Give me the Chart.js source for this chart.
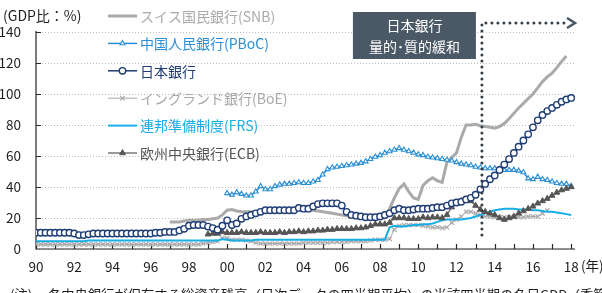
<!DOCTYPE html>
<html lang="ja">
<head>
<meta charset="utf-8">
<title>中央銀行の総資産残高（GDP比）</title>
<script src="https://cdn.jsdelivr.net/npm/chart.js@4/dist/chart.umd.min.js"></script>
<style>
  html, body { margin: 0; padding: 0; background: #fff; }
  canvas { display: block; }
</style>
</head>
<body>
<canvas id="chart" width="602" height="293"></canvas>
<script>
(function () {
  "use strict";

  // quarterly values, % of nominal GDP
  var bojStart = 1990;
  var boj = [
    10.5, 10.5, 10.5, 10.5, // 1990
    10.5, 10.5, 10.5, 10.5,
    10, 9, 9, 9.5,
    10, 10, 10, 10,
    10, 10, 10, 10,
    10, 10, 10, 10, // 1995
    10, 10.5, 10.5, 11,
    11, 11, 12, 13,
    15, 15.5, 15.5, 15.5,
    14.5, 13.5, 12.5, 15,
    18.5, 15.5, 16.5, 19.5, // 2000
    21, 22, 23, 24,
    25, 25, 25, 25,
    25, 25, 25, 26.5,
    26, 26, 27.5, 29,
    29.5, 29.5, 29.5, 29.5, // 2005
    28, 24, 22, 21.5,
    21, 20.5, 20.5, 20.5,
    21, 22, 23, 25,
    26, 25, 25, 25.5,
    26, 26, 26, 26.5, // 2010
    27, 27, 28, 29.5,
    30, 30.5, 32, 33,
    35, 38.5, 42, 45,
    47.5, 51, 54.5, 58,
    62, 66, 70, 74, // 2015
    78.5, 83, 86.5, 89,
    91, 93, 95, 96.5,
    97.5 // 2018
  ];

  var snbStart = 1997;
  var snb = [
    17.5, 17.5, 17.5, 18, // 1997
    18.5, 18.5, 18.5, 19,
    19, 19.5, 20, 22,
    25, 25.5, 24.5, 24, // 2000
    24, 24, 24, 24,
    24.5, 24.5, 25, 25,
    25, 25.5, 25.5, 26,
    26, 25.5, 25, 24.5,
    24, 23.5, 23, 22.5, // 2005
    22, 21.5, 21, 20.5,
    20, 19.5, 19.5, 19.5,
    19.5, 20, 26, 33,
    39, 42, 37, 33,
    32, 41, 44, 46, // 2010
    44, 43, 56, 59,
    62, 72, 80, 80,
    80.5, 79.5, 79, 78.5,
    78, 79, 81, 84,
    87.5, 91, 94, 97, // 2015
    100, 104, 108, 111,
    113.5, 117, 121, 124.5
  ];

  var pbocStart = 2000;
  var pboc = [
    36, 35, 36.5, 35.5, // 2000
    34.5, 34.5, 37, 40.5,
    38.5, 38.5, 40.5, 41.5,
    42, 42, 42.5, 43,
    42.5, 42.5, 43.5, 44.5,
    48, 51.5, 52.5, 53, // 2005
    53.5, 54, 54.5, 55,
    55.5, 56.5, 58, 59.5,
    60.5, 62, 63, 64,
    65, 64, 63, 62,
    61, 60.5, 59.5, 59, // 2010
    58.5, 58, 57.5, 57,
    56, 55, 54.5, 54,
    53, 52.5, 52, 52,
    52, 51.5, 51, 51,
    51, 50.5, 49.5, 45.5, // 2015
    45, 46.5, 45, 44.5,
    43.5, 42.5, 42, 42,
    40.5 // 2018
  ];

  var boeStart = 1990;
  var boe = [
    3, 3, 3, 3, // 1990
    3, 3, 3, 3,
    3, 3, 3, 3,
    3, 3, 3, 3,
    3, 3, 3, 3,
    3, 3, 3, 3, // 1995
    3, 3, 3, 3,
    3, 3, 3, 3,
    3, 3, 3, 3.5,
    4, 4.5, 5, 7,
    7, 6, 6, 6, // 2000
    5.5, 5, 4, 3.5,
    3.5, 3.5, 3.5, 3.5,
    3.5, 3.5, 3.5, 3.5,
    4, 4, 4, 4,
    4, 4, 4.5, 4.5, // 2005
    4.5, 4.5, 5, 5,
    5, 5, 5.5, 6,
    6, 6, 6.5, 12.5,
    15, 15.5, 15.5, 15.5,
    15.5, 15, 14.5, 14, // 2010
    14, 13.5, 14, 17,
    19, 21, 24, 24,
    23, 22, 21, 21,
    20.5, 20.5, 20.5, 20.5,
    20.5, 20.5, 20.5, 21, // 2015
    21, 21, 23, 25
  ];

  var frsStart = 1990;
  var frs = [
    5, 5, 5, 5, // 1990
    5, 5, 5, 5,
    5, 5, 5, 5.5,
    5.5, 5.5, 5.5, 5.5,
    5.5, 5.5, 5.5, 5.5,
    5.5, 5.5, 5.5, 5.5, // 1995
    5.5, 5.5, 5.5, 5.5,
    5.5, 5.5, 5.5, 5.5,
    5.5, 5.5, 5.5, 5.5,
    5.5, 5.5, 5.5, 6.5,
    6, 5.5, 5.5, 5.5, // 2000
    5.5, 5.5, 6, 6,
    6, 6, 6, 6,
    6, 6, 6, 6,
    6, 6, 6, 6,
    6, 6, 6, 6, // 2005
    6, 6, 6, 6,
    6, 6, 6, 6,
    6, 6, 14, 15,
    14.5, 14.5, 15, 15.5,
    15.5, 16, 16, 16.5, // 2010
    17.5, 18.5, 19, 19,
    19, 19, 19.5, 20,
    21, 22, 23, 24,
    25, 25.5, 26, 26,
    26, 25.5, 25.5, 25.5, // 2015
    25, 25, 24.5, 24,
    24, 23.5, 23, 22.5,
    22 // 2018
  ];

  var ecbStart = 1999;
  var ecb = [
    9.5, 10, 10, 11, // 1999
    10.5, 10.5, 10.5, 11, // 2000
    10.5, 10.5, 10.5, 11,
    10.5, 10.5, 10.5, 11,
    10.5, 11, 11, 11.5,
    11, 11.5, 11.5, 12,
    12, 12.5, 12.5, 13, // 2005
    13, 13, 13, 13.5,
    13.5, 14, 15, 16,
    16, 16, 17, 20,
    20, 20, 19.5, 19.5,
    19.5, 20.5, 20, 20.5, // 2010
    20.5, 20, 22, 27,
    29.5, 31, 31.5, 31,
    28, 25.5, 24, 23,
    22, 20, 19, 20,
    21, 23, 24.5, 26, // 2015
    27.5, 29.5, 31, 32.5,
    34.5, 36.5, 38, 39,
    40 // 2018
  ];

  var yearMin = 1990;
  var yearMax = 2018;
  var yMax = 140;
  var yStep = 20;
  var qqeStart = 2013.33;
  var qqeLabel = ["日本銀行", "量的･質的緩和"];
  var yTitle = "(GDP比：%)";
  var xUnit = "(年)";
  var noteHead = "(注)";
  var noteText = "各中央銀行が保有する総資産残高（日次データの四半期平均）の当該四半期の名目GDP（季節調整値）に対する比率。";

  var FONT = "'Noto Sans CJK JP', 'Noto Sans', sans-serif";
  Chart.defaults.font.family = FONT;

  function toPoints(values, start) {
    return values.map(function (v, i) {
      return { x: start + i / 4, y: v };
    });
  }

  // --- plugins ---

  var axesPlugin = {
    id: "axes",
    beforeDatasetsDraw: function (chart) {
      var ctx = chart.ctx;
      var a = chart.chartArea;
      var xs = chart.scales.x;
      var ys = chart.scales.y;
      ctx.save();
      ctx.strokeStyle = "#262626";
      ctx.lineWidth = 1.2;
      ctx.beginPath();
      ctx.moveTo(a.left, a.top - 1);
      ctx.lineTo(a.left, a.bottom);
      ctx.lineTo(a.right, a.bottom);
      for (var yr = yearMin; yr <= yearMax; yr++) {
        var px = Math.round(xs.getPixelForValue(yr)) + 0.5;
        ctx.moveTo(px, a.bottom);
        ctx.lineTo(px, a.bottom - 5);
      }
      for (var v = yStep; v <= yMax; v += yStep) {
        var py = Math.round(ys.getPixelForValue(v)) + 0.5;
        ctx.moveTo(a.left, py);
        ctx.lineTo(a.left + 5, py);
      }
      ctx.stroke();
      ctx.restore();
    },
  };

  var qqePlugin = {
    id: "qqe",
    afterDatasetsDraw: function (chart) {
      var ctx = chart.ctx;
      var a = chart.chartArea;
      var lx = chart.scales.x.getPixelForValue(qqeStart);
      var topY = a.top - 9;
      ctx.save();
      ctx.strokeStyle = "#333e49";
      ctx.lineWidth = 3;
      ctx.lineCap = "round";
      ctx.setLineDash([0, 6]);
      ctx.beginPath();
      ctx.moveTo(lx, a.bottom - 14);
      ctx.lineTo(lx, topY);
      ctx.lineTo(a.right - 10, topY);
      ctx.stroke();
      ctx.setLineDash([]);
      ctx.strokeStyle = "#4b5966";
      ctx.lineWidth = 2.6;
      ctx.lineCap = "butt";
      ctx.beginPath();
      ctx.moveTo(a.right - 8, topY - 5);
      ctx.lineTo(a.right, topY);
      ctx.lineTo(a.right - 8, topY + 5);
      ctx.stroke();

      ctx.fillStyle = "#4b5966";
      ctx.fillRect(lx - 129, a.top - 20, 123, 47);
      ctx.fillStyle = "#ffffff";
      ctx.font = "14px " + FONT;
      ctx.textAlign = "center";
      ctx.textBaseline = "middle";
      ctx.fillText(qqeLabel[0], lx - 67.5, a.top - 6.5);
      ctx.fillText(qqeLabel[1], lx - 67.5, a.top + 15);
      ctx.restore();
    },
  };

  var legendPlugin = {
    id: "insideLegend",
    afterDraw: function (chart) {
      var ctx = chart.ctx;
      var sets = chart.data.datasets;
      var x0 = 108;
      var y0 = 16;
      var row = 27.4;
      ctx.save();
      ctx.font = "14px " + FONT;
      ctx.textBaseline = "middle";
      ctx.textAlign = "left";
      for (var i = 0; i < sets.length; i++) {
        var ds = sets[i];
        var y = y0 + i * row;
        ctx.strokeStyle = ds.borderColor;
        ctx.lineWidth = ds.borderWidth;
        ctx.beginPath();
        ctx.moveTo(x0, y);
        ctx.lineTo(x0 + 29, y);
        ctx.stroke();
        if (ds.pointRadius) {
          ctx.fillStyle = ds.pointBackgroundColor;
          ctx.lineWidth = ds.pointBorderWidth;
          Chart.helpers.drawPoint(
            ctx,
            {
              pointStyle: ds.pointStyle,
              radius: ds.pointRadius,
              rotation: 0,
              borderWidth: ds.pointBorderWidth,
            },
            x0 + 14.5,
            y
          );
        }
        ctx.fillStyle = ds.borderColor;
        ctx.fillText(ds.label, x0 + 32, y + 0.5);
      }

      // axis captions and note
      ctx.fillStyle = "#1e1e1e";
      ctx.fillText(yTitle, 3, 16);
      ctx.font = "13.5px " + FONT;
      ctx.fillText(xUnit, 581, 266);
      ctx.font = "13.3px " + FONT;
      ctx.fillText(noteHead, 10, 295);
      ctx.fillText(noteText, 48, 295);
      ctx.restore();
    },
  };

  // --- chart ---

  var canvas = document.getElementById("chart");
  new Chart(canvas, {
    type: "line",
    data: {
      datasets: [
        {
          label: "スイス国民銀行(SNB)",
          data: toPoints(snb, snbStart),
          borderColor: "#aaaaaa",
          borderWidth: 3,
          pointRadius: 0,
          order: 4,
        },
        {
          label: "中国人民銀行(PBoC)",
          data: toPoints(pboc, pbocStart),
          borderColor: "#2b8fd5",
          borderWidth: 1.5,
          pointStyle: "triangle",
          pointRadius: 2.8,
          pointBorderWidth: 1.1,
          pointBackgroundColor: "#ffffff",
          order: 2,
        },
        {
          label: "日本銀行",
          data: toPoints(boj, bojStart),
          borderColor: "#1f3c74",
          borderWidth: 1.5,
          pointStyle: "circle",
          pointRadius: 3.2,
          pointBorderWidth: 1.4,
          pointBackgroundColor: "#ffffff",
          order: 0,
        },
        {
          label: "イングランド銀行(BoE)",
          data: toPoints(boe, boeStart),
          borderColor: "#a8a8a8",
          borderWidth: 1,
          pointStyle: "crossRot",
          pointRadius: 3,
          pointBorderWidth: 1.2,
          pointBackgroundColor: "#a8a8a8",
          order: 5,
        },
        {
          label: "連邦準備制度(FRS)",
          data: toPoints(frs, frsStart),
          borderColor: "#19ade6",
          borderWidth: 2,
          pointRadius: 0,
          order: 3,
        },
        {
          label: "欧州中央銀行(ECB)",
          data: toPoints(ecb, ecbStart),
          borderColor: "#555555",
          borderWidth: 1.2,
          pointStyle: "triangle",
          pointRadius: 3.4,
          pointBorderWidth: 1,
          pointBackgroundColor: "#555555",
          order: 1,
        },
      ],
    },
    options: {
      responsive: false,
      animation: false,
      layout: { padding: { left: 0, right: 27, top: 32, bottom: 0 } },
      elements: { line: { tension: 0, fill: false } },
      plugins: {
        legend: { display: false },
        tooltip: { enabled: false },
      },
      scales: {
        x: {
          type: "linear",
          min: yearMin,
          max: yearMax + 0.2,
          grid: { display: false, drawTicks: false },
          border: { display: false },
          ticks: {
            stepSize: 1,
            autoSkip: false,
            includeBounds: false,
            maxRotation: 0,
            padding: 10,
            color: "#1e1e1e",
            font: { size: 13.5 },
            callback: function (v) {
              return v % 2 === 0 ? String(v).slice(2) : "";
            },
          },
          afterFit: function (s) {
            s.height = 44;
          },
        },
        y: {
          min: 0,
          max: yMax,
          grid: { color: "#bdbdbd", lineWidth: 1, drawTicks: false },
          border: { display: false, dash: [1, 2] },
          ticks: {
            stepSize: yStep,
            padding: 15,
            color: "#1e1e1e",
            font: { size: 13.5 },
          },
          afterFit: function (s) {
            s.width = 36;
          },
        },
      },
    },
    plugins: [axesPlugin, qqePlugin, legendPlugin],
  });
})();
</script>
</body>
</html>
